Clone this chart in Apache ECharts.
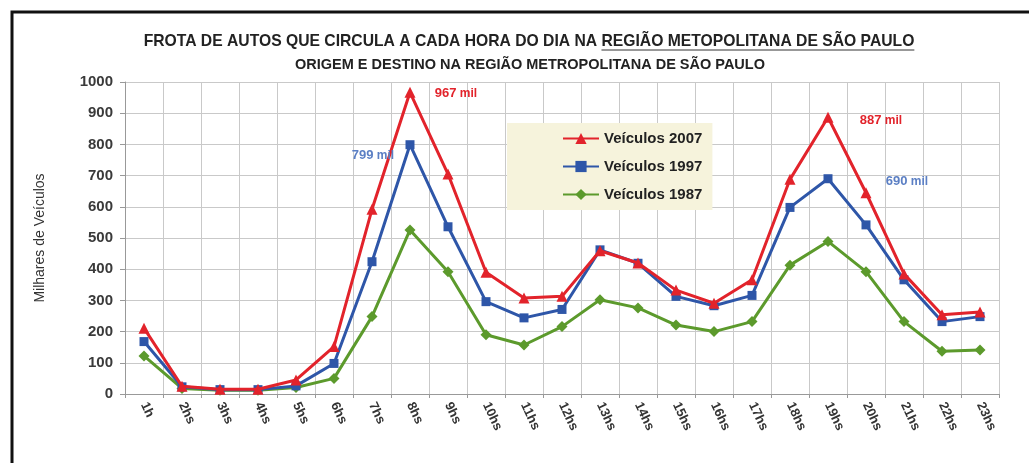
<!DOCTYPE html>
<html>
<head>
<meta charset="utf-8">
<script src="https://cdn.jsdelivr.net/npm/echarts@6/dist/echarts.min.js"></script>
<style>
    html, body { margin: 0; padding: 0; background: #fff; }
    #chart { width: 1029px; height: 463px; }
</style>
</head>
<body>
<div id="chart"></div>
<script>
let hours = ['1h', '2hs', '3hs', '4hs', '5hs', '6hs', '7hs', '8hs', '9hs', '10hs', '11hs', '12hs',
    '13hs', '14hs', '15hs', '16hs', '17hs', '18hs', '19hs', '20hs', '21hs', '22hs', '23hs'];

let veiculos2007 = [211, 25, 15, 15, 45, 152, 592, 967, 705, 390, 308, 313, 459, 420, 333, 291, 366, 688, 887, 645, 385, 254, 263];
let veiculos1997 = [168, 23, 14, 14, 26, 98, 424, 799, 536, 296, 244, 271, 462, 419, 313, 283, 316, 598, 690, 542, 366, 232, 248];
let veiculos1987 = [122, 18, 12, 12, 21, 50, 248, 526, 392, 190, 157, 216, 302, 276, 221, 200, 232, 413, 489, 392, 232, 137, 141];

let yTicks = [0, 100, 200, 300, 400, 500, 600, 700, 800, 900, 1000];

let titlePart1 = 'FROTA DE AUTOS QUE CIRCULA A CADA HORA DO DIA NA ';
let titlePart2 = 'REGIÃO METOPOLITANA DE SÃO PAULO';
let subtitle = 'ORIGEM E DESTINO NA REGIÃO METROPOLITANA DE SÃO PAULO';

let font = "'Liberation Sans', sans-serif";
let titleSize = 15.7;
let titleCenter = 529;

let myChart = echarts.init(document.getElementById('chart'));

// medir o título para sublinhar só a parte da região
let ctx = document.createElement('canvas').getContext('2d');
ctx.font = 'bold ' + titleSize + 'px ' + font;
let fullW = ctx.measureText(titlePart1 + titlePart2).width;
let part1W = ctx.measureText(titlePart1).width;
let underlineX1 = titleCenter - fullW / 2 + part1W;
let underlineX2 = titleCenter + fullW / 2;

// rótulo "xxx mil" preso ao ponto do pico
function peakLabel(hour, value, color, offset) {
    return {
        coord: [hour, value],
        symbolSize: 0,
        label: {
            show: true,
            formatter: '{n|' + value + '} {m|mil}',
            offset: offset,
            rich: {
                n: {color: color, fontSize: 13, fontWeight: 'bold', fontFamily: font},
                m: {color: color, fontSize: 12, fontWeight: 'bold', fontFamily: font}
            }
        }
    };
}

let option = {
    backgroundColor: '#fff',
    animation: false,
    title: [
        {
            text: titlePart1 + titlePart2,
            left: titleCenter,
            top: 34,
            padding: 0,
            textAlign: 'center',
            textStyle: {fontSize: titleSize, fontWeight: 'bold', color: '#222', fontFamily: font}
        },
        {
            text: subtitle,
            left: 530,
            top: 57,
            padding: 0,
            textAlign: 'center',
            textStyle: {fontSize: 14.5, fontWeight: 'bold', color: '#222', fontFamily: font}
        }
    ],
    legend: {
        orient: 'vertical',
        left: 507,
        top: 123,
        padding: [8, 10, 8, 55],
        itemGap: 13,
        itemWidth: 36,
        itemHeight: 14,
        backgroundColor: '#f6f3dc',
        textStyle: {fontSize: 15, fontWeight: 'bold', color: '#222', fontFamily: font},
        data: ['Veículos 2007', 'Veículos 1997', 'Veículos 1987']
    },
    grid: {left: 125, right: 30, top: 82, bottom: 69},
    xAxis: {
        type: 'category',
        data: hours,
        boundaryGap: true,
        axisLine: {lineStyle: {color: '#999', width: 1}},
        axisTick: {show: true, length: 4, lineStyle: {color: '#999'}},
        splitLine: {show: true, lineStyle: {color: '#c9c9c9', width: 1}},
        axisLabel: {
            rotate: -65,
            margin: 9,
            fontSize: 13,
            fontWeight: 'bold',
            color: '#333',
            fontFamily: font
        }
    },
    yAxis: {
        type: 'value',
        min: 0,
        max: 1000,
        interval: 100,
        name: 'Milhares de Veículos',
        nameLocation: 'middle',
        nameGap: 78,
        nameTextStyle: {fontSize: 14, color: '#333', fontFamily: font},
        axisLine: {show: true, lineStyle: {color: '#999', width: 1}},
        axisTick: {show: true, length: 5, lineStyle: {color: '#999'}},
        splitLine: {show: true, lineStyle: {color: '#c9c9c9', width: 1}},
        axisLabel: {
            fontSize: 15,
            fontWeight: 'bold',
            color: '#3a3a3a',
            margin: 12,
            fontFamily: font,
            formatter: function (v) {
                return yTicks.indexOf(v) >= 0 ? String(v) : '';
            }
        }
    },
    series: [
        {
            name: 'Veículos 2007',
            type: 'line',
            data: veiculos2007,
            z: 4,
            symbol: 'triangle',
            symbolSize: 11,
            lineStyle: {color: '#e2232b', width: 3},
            itemStyle: {color: '#e2232b'},
            markPoint: {
                symbol: 'circle',
                data: [
                    peakLabel('8hs', 967, '#e2232b', [46, 1]),
                    peakLabel('19hs', 887, '#e2232b', [53, 3])
                ]
            }
        },
        {
            name: 'Veículos 1997',
            type: 'line',
            data: veiculos1997,
            z: 3,
            symbol: 'rect',
            symbolSize: 9,
            lineStyle: {color: '#2e56a8', width: 3},
            itemStyle: {color: '#2e56a8'},
            markPoint: {
                symbol: 'circle',
                data: [
                    peakLabel('8hs', 799, '#5b7fc4', [-37, 11]),
                    peakLabel('19hs', 690, '#5b7fc4', [79, 3])
                ]
            }
        },
        {
            name: 'Veículos 1987',
            type: 'line',
            data: veiculos1987,
            z: 2,
            symbol: 'diamond',
            symbolSize: 11,
            lineStyle: {color: '#5c9a2c', width: 3},
            itemStyle: {color: '#5c9a2c'}
        }
    ],
    graphic: [
        {
            type: 'rect',
            shape: {x: 12, y: 12, width: 1100, height: 500},
            style: {fill: 'none', stroke: '#111', lineWidth: 3},
            silent: true
        },
        {
            type: 'line',
            shape: {x1: underlineX1, y1: 50, x2: underlineX2, y2: 50},
            style: {stroke: '#333', lineWidth: 1},
            silent: true
        }
    ]
};

myChart.setOption(option);
</script>
</body>
</html>
